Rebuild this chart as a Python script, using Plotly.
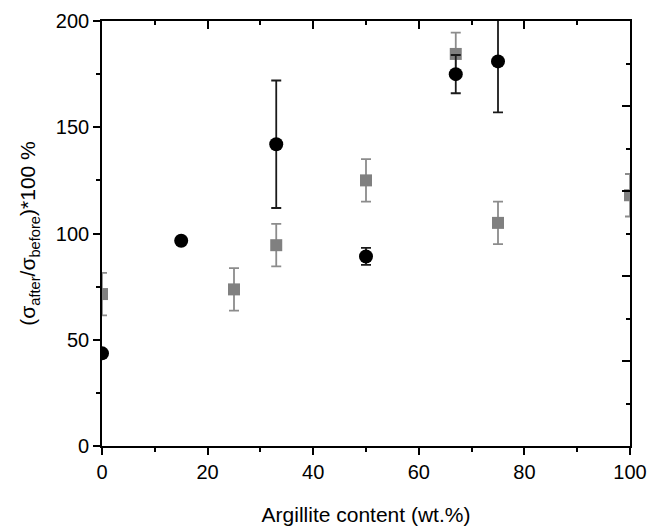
import plotly.graph_objects as go

# Black circles
circ_x = [0, 15, 33, 50, 67, 75]
circ_y = [43.6, 96.6, 142, 89.2, 175, 181]
circ_err = [0, 0, 30, 4, 9, 24]

# Gray squares
sq_x = [0, 25, 33, 50, 67, 75, 100]
sq_y = [71.5, 73.7, 94.5, 125, 184.5, 105, 118]
sq_err = [10, 10, 10, 10, 10, 10, 10]

FONT = "Liberation Sans, Arial, sans-serif"
GRAY = "#808080"

fig = go.Figure()
fig.add_trace(go.Scatter(
    x=sq_x, y=sq_y, mode="markers",
    marker=dict(symbol="square", size=12, color=GRAY),
    error_y=dict(type="data", array=sq_err, color="#8c8c8c", thickness=1.8, width=5),
    showlegend=False,
))
fig.add_trace(go.Scatter(
    x=circ_x, y=circ_y, mode="markers",
    marker=dict(symbol="circle", size=14, color="black"),
    error_y=dict(type="data", array=circ_err, color="#1a1a1a", thickness=1.8, width=5),
    showlegend=False,
))
# invisible trace to carry the top/right helper axes
fig.add_trace(go.Scatter(x=[None], y=[None], xaxis="x2", yaxis="y2",
                         showlegend=False, hoverinfo="skip"))

tickfont = dict(family=FONT, size=20, color="black")
fig.update_layout(
    width=647, height=527,
    margin=dict(l=102, r=17, t=21, b=81),
    paper_bgcolor="white", plot_bgcolor="white",
    font=dict(family=FONT, color="black"),
    xaxis=dict(
        range=[0, 100], dtick=20, tick0=0, showgrid=False, zeroline=False, automargin=False,
        showline=True, linecolor="black", linewidth=1.6,
        ticks="outside", ticklen=7, tickwidth=1.5, tickcolor="black",
        minor=dict(ticks="outside", ticklen=4, dtick=10, tickwidth=1.5, tickcolor="black", showgrid=False),
        tickfont=tickfont,
        title=dict(text="Argillite content (wt.%)", font=dict(family=FONT, size=21), standoff=26),
    ),
    yaxis=dict(
        range=[0, 200], dtick=50, tick0=0, showgrid=False, zeroline=False, automargin=False,
        showline=True, linecolor="black", linewidth=1.6,
        ticks="outside", ticklen=7, tickwidth=1.5, tickcolor="black",
        minor=dict(ticks="outside", ticklen=4, dtick=25, tickwidth=1.5, tickcolor="black", showgrid=False),
        tickfont=tickfont,
        title=dict(text="(σ<sub>after</sub>/σ<sub>before</sub>)*100 %", font=dict(family=FONT, size=21), standoff=14),
    ),
    xaxis2=dict(
        range=[0, 100], dtick=20, tick0=0, overlaying="x", side="top", anchor="y2", automargin=False,
        showgrid=False, zeroline=False, showline=True, linecolor="black", linewidth=1.6,
        ticks="inside", ticklen=8, tickwidth=1.5, tickcolor="black", showticklabels=False,
        minor=dict(ticks="inside", ticklen=4, dtick=10, tickwidth=1.5, tickcolor="black", showgrid=False),
    ),
    yaxis2=dict(
        range=[0, 250], dtick=50, tick0=0, overlaying="y", side="right", anchor="x2", automargin=False,
        showgrid=False, zeroline=False, showline=True, linecolor="black", linewidth=1.6,
        ticks="inside", ticklen=8, tickwidth=1.5, tickcolor="black", showticklabels=False,
        minor=dict(ticks="inside", ticklen=4, dtick=25, tickwidth=1.5, tickcolor="black", showgrid=False),
    ),
)

fig.write_html("out.html")
